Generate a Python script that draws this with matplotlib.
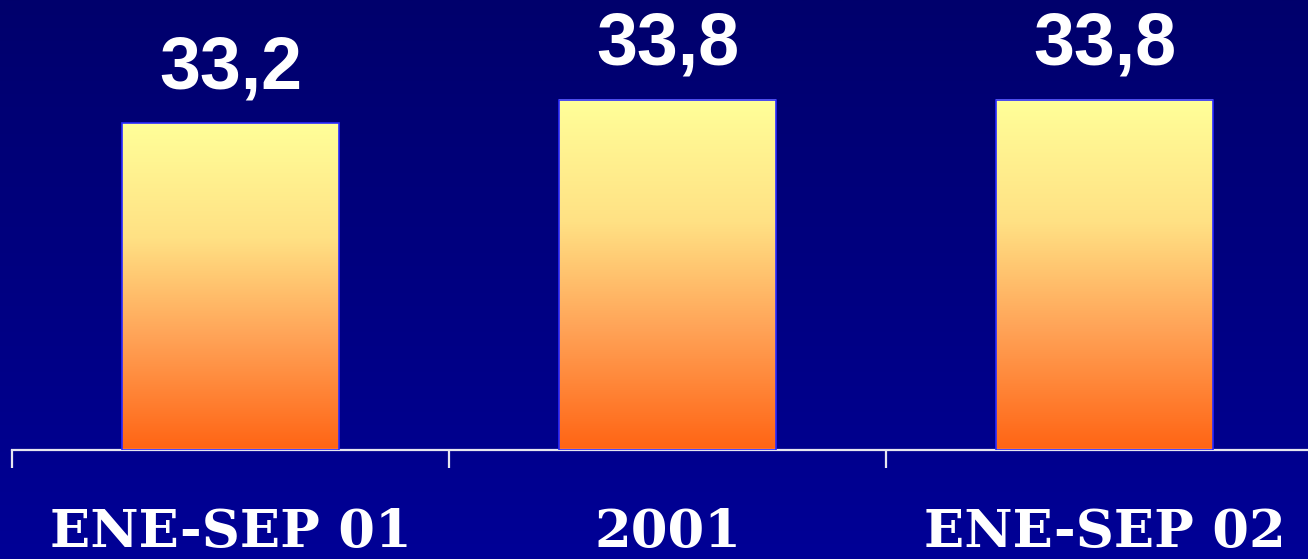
import numpy as np
import matplotlib.pyplot as plt
from matplotlib.colors import LinearSegmentedColormap

# data
categories = ['ENE-SEP 01', '2001', 'ENE-SEP 02']
values = [33.2, 33.8, 33.8]
value_labels = ['33,2', '33,8', '33,8']

y_min = 25.0
y_max = 36.3

fig = plt.figure(figsize=(13.08, 5.59), dpi=100)

# background gradient (dark navy at top, brighter blue at bottom)
bg = fig.add_axes([0, 0, 1, 1], zorder=0)
bg_cmap = LinearSegmentedColormap.from_list('bg', ['#00006C', '#000096'])
bg.imshow(np.linspace(0, 1, 256).reshape(-1, 1), aspect='auto', cmap=bg_cmap,
          extent=(0, 1, 0, 1), origin='upper')
bg.axis('off')

# main axes; extends past the right edge like the original slide
fig_w, fig_h = 1308, 559
left = 12 / fig_w
bottom = 1 - 450 / fig_h
width = 3 * 437 / fig_w
ax = fig.add_axes([left, bottom, width, 450 / fig_h], zorder=1)
ax.patch.set_alpha(0)

x = np.arange(len(categories))
bar_w = 0.495
ax.set_xlim(-0.5, len(categories) - 0.5)
ax.set_ylim(y_min, y_max)

bar_cmap = LinearSegmentedColormap.from_list(
    'bars', [(0.0, '#FF6414'), (0.35, '#FFA458'), (0.65, '#FFE184'), (1.0, '#FFFF99')])
grad = np.linspace(0, 1, 256).reshape(-1, 1)

bars = ax.bar(x, [v - y_min for v in values], bottom=y_min, width=bar_w,
              facecolor='none', edgecolor='#2A2AFF', linewidth=1.2, zorder=3)
for b in bars:
    x0, x1 = b.get_x(), b.get_x() + b.get_width()
    ax.imshow(grad, aspect='auto', cmap=bar_cmap, origin='lower',
              extent=(x0, x1, y_min, b.get_y() + b.get_height()), zorder=2)

for xi, v, lab in zip(x, values, value_labels):
    ax.annotate(lab, (xi, v), xytext=(0, 25), textcoords='offset points',
                ha='center', va='baseline', color='white', fontsize=53,
                fontweight='bold', family='Liberation Sans')

ax.set_xlim(-0.5, len(categories) - 0.5)
ax.set_ylim(y_min, y_max)

for s in ['top', 'right', 'left']:
    ax.spines[s].set_visible(False)
ax.spines['bottom'].set_color('#E6E6F0')
ax.spines['bottom'].set_linewidth(1.6)
ax.set_yticks([])

# category boundaries as ticks, labels at centres
ax.set_xticks(np.arange(len(categories) + 1) - 0.5)
ax.set_xticklabels([])
ax.tick_params(axis='x', which='major', direction='out', length=13,
               width=1.6, color='#E6E6F0')
ax.set_xticks(x, minor=True)
ax.set_xticklabels(categories, minor=True, color='white', fontsize=38,
                   fontweight='bold', family='DejaVu Serif')
ax.tick_params(axis='x', which='minor', length=0, pad=41)

fig.savefig('out.png', dpi=100, facecolor='#00006C')
